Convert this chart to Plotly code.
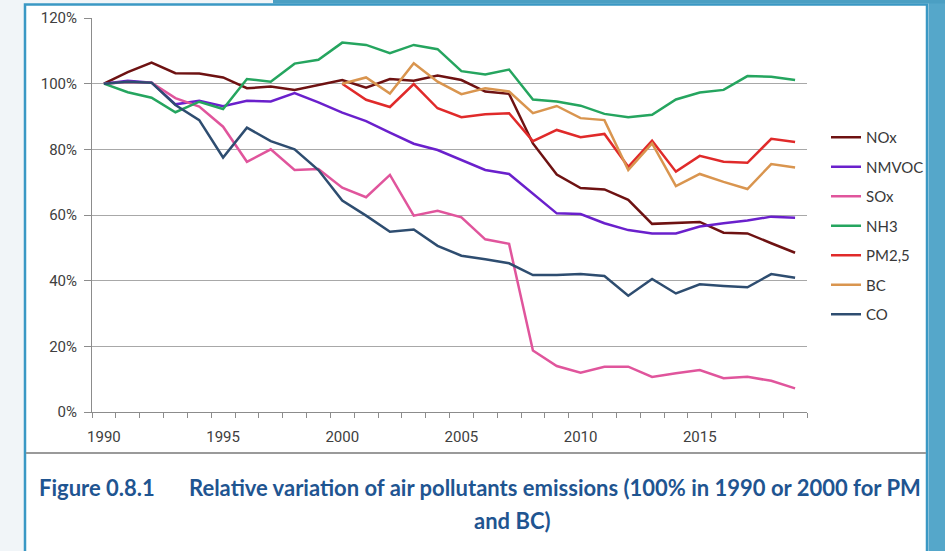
import plotly.graph_objects as go

years = list(range(1990, 2020))

nox = [100, 103.5, 106.4, 103.2, 103.1, 101.9, 98.6, 99.1, 98.1, 99.7, 101.1, 98.8, 101.4, 100.9, 102.5, 101.1,
       97.6, 96.9, 81.8, 72.3, 68.2, 67.8, 64.6, 57.3, 57.7, 57.9, 54.6, 54.4, 51.4, 48.5]
nmvoc = [100, 100.9, 100.3, 93.7, 94.8, 93.1, 94.8, 94.6, 97.1, 94.3, 91.2, 88.6, 85.1, 81.7, 79.8, 76.8,
         73.7, 72.5, 66.6, 60.5, 60.3, 57.5, 55.4, 54.4, 54.4, 56.5, 57.5, 58.3, 59.5, 59.2]
sox = [100, 100.5, 100.3, 95.6, 93.0, 86.9, 76.2, 80.0, 73.7, 74.0, 68.3, 65.4, 72.2, 59.8, 61.3, 59.3,
       52.6, 51.2, 18.7, 14.0, 12.0, 13.8, 13.8, 10.7, 11.8, 12.8, 10.3, 10.7, 9.5, 7.2]
nh3 = [100, 97.4, 95.7, 91.3, 94.5, 92.3, 101.4, 100.6, 106.1, 107.3, 112.5, 111.8, 109.3, 111.8, 110.5, 103.8,
       102.8, 104.3, 95.2, 94.6, 93.3, 90.8, 89.8, 90.5, 95.2, 97.3, 98.1, 102.3, 102.1, 101.1]
pm25 = [None] * 10 + [100, 95.1, 92.9, 99.9, 92.5, 89.8, 90.7, 91.0, 82.5, 85.9, 83.7, 84.7, 74.7, 82.6,
                      73.2, 78.0, 76.2, 75.9, 83.2, 82.2]
bc = [None] * 10 + [100, 101.9, 97.0, 106.2, 100.6, 96.8, 98.6, 97.6, 91.0, 93.2, 89.5, 88.9, 73.7, 81.8,
                    68.8, 72.5, 70.1, 67.9, 75.5, 74.5]
co = [100, 100.6, 100.3, 93.5, 88.9, 77.5, 86.6, 82.5, 80.0, 73.7, 64.4, 59.8, 54.9, 55.6, 50.6, 47.6,
      46.5, 45.3, 41.7, 41.7, 42.0, 41.4, 35.4, 40.5, 36.1, 38.9, 38.4, 38.0, 42.0, 40.9]

series_names = ["NOx", "NMVOC", "SOx", "NH3", "PM2,5", "BC", "CO"]
series_values = [nox, nmvoc, sox, nh3, pm25, bc, co]
series_colors = ["#6e1212", "#6a20cc", "#e0559c", "#25a55f", "#e02a2a", "#d9954f", "#2e4d70"]

x_tick_labels = ["1990", "1995", "2000", "2005", "2010", "2015"]
y_tick_values = [0, 20, 40, 60, 80, 100, 120]
y_tick_labels = ["0%", "20%", "40%", "60%", "80%", "100%", "120%"]

W, H = 945, 551
L, R, T, B = 92, 807, 18, 412


def px(x):
    return (x - L) / (R - L)


def py(y):
    return (B - y) / (B - T)


fig = go.Figure()
for name, vals, col in zip(series_names, series_values, series_colors):
    fig.add_trace(go.Scatter(x=years, y=vals, name=name, mode="lines",
                             line=dict(color=col, width=2.5), legendgroup=name,
                             connectgaps=False))

shapes = [
    # white panel with blue border
    dict(type="rect", xref="paper", yref="paper", x0=px(25), x1=px(927), y0=py(560), y1=py(4.5),
         fillcolor="white", line=dict(color="#3a98c4", width=2.5), layer="below"),
    # right teal strip
    dict(type="rect", xref="paper", yref="paper", x0=px(928.5), x1=px(950), y0=py(560), y1=py(-5),
         fillcolor="#55a7ca", line=dict(width=0), layer="below"),
    # top teal strip
    dict(type="rect", xref="paper", yref="paper", x0=px(273), x1=px(950), y0=py(3.5), y1=py(-5),
         fillcolor="#4b9fc3", line=dict(width=0), layer="below"),
    # separator line
    dict(type="line", xref="paper", yref="paper", x0=px(26), x1=px(926), y0=py(453), y1=py(453),
         line=dict(color="#9a9a9a", width=2), layer="below"),
]

cap_font = dict(family="Lato, Open Sans, sans-serif", size=22, color="#1f5591")
annotations = [
    dict(text="<b>Figure 0.8.1</b>", xref="paper", yref="paper", x=px(37), y=py(487),
         xanchor="left", yanchor="middle", showarrow=False, font=cap_font),
    dict(text="<b>Relative variation of air pollutants emissions (100% in 1990 or 2000 for PM</b>",
         xref="paper", yref="paper", x=px(187), y=py(487), xanchor="left", yanchor="middle",
         showarrow=False, font=cap_font),
    dict(text="<b>and BC)</b>", xref="paper", yref="paper", x=px(512), y=py(520),
         xanchor="center", yanchor="middle", showarrow=False, font=cap_font),
]

tick_font = dict(family="Liberation Sans Narrow, Roboto, sans-serif", size=15, color="#404040")

fig.update_layout(
    width=W, height=H,
    margin=dict(l=L, r=W - R, t=T, b=H - B, pad=0, autoexpand=False),
    paper_bgcolor="#f1f5f8",
    plot_bgcolor="rgba(0,0,0,0)",
    showlegend=True,
    legend=dict(x=px(826), y=py(121), xanchor="left", yanchor="top",
                font=dict(family="Lato, Open Sans, sans-serif", size=15, color="#383838"),
                bgcolor="rgba(0,0,0,0)", tracegroupgap=7, traceorder="grouped"),
    shapes=shapes,
    annotations=annotations,
    xaxis=dict(range=[1989.5, 2019.5], tickmode="array", tickvals=[int(t) for t in x_tick_labels],
               ticktext=x_tick_labels, ticks="", showgrid=False, zeroline=False,
               showline=True, linecolor="#8c8c8c", linewidth=1, tickfont=tick_font,
               ticklabelstandoff=11,
               minor=dict(tickmode="linear", tick0=1989.5, dtick=1, ticks="outside", ticklen=5,
                          tickcolor="#8c8c8c", tickwidth=1, showgrid=False)),
    yaxis=dict(range=[0, 120], tickmode="array", tickvals=y_tick_values, ticktext=y_tick_labels,
               ticks="outside", ticklen=7, tickcolor="#8c8c8c", showgrid=True, gridcolor="#a8a8a8",
               gridwidth=1, zeroline=False, showline=True, linecolor="#8c8c8c", linewidth=1,
               tickfont=tick_font, ticklabelstandoff=4),
    hovermode=False,
)

fig.write_html("out.html", config={"displayModeBar": False},
               post_script="document.body.style.margin='0px';document.body.style.overflow='hidden';")
